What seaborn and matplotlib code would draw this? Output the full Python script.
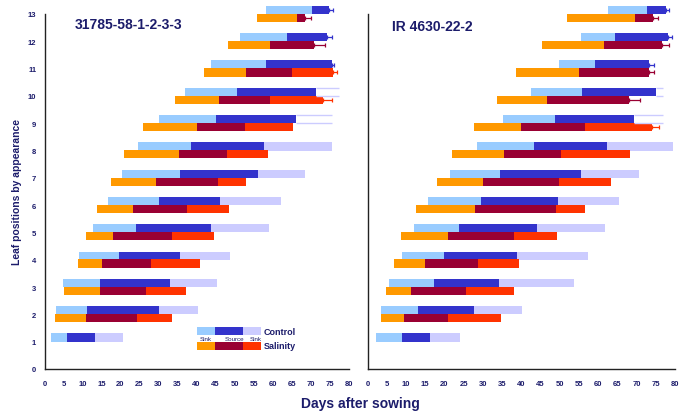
import numpy as np
import matplotlib.pyplot as plt
import seaborn as sns
from matplotlib.patches import Rectangle

sns.set_style('white')
plt.rcParams['font.family'] = ['Liberation Sans', 'DejaVu Sans']

NAVY = '#1c1c6b'
C_COLS = ['#99ccff', '#3333cc', '#ccccff']
S_COLS = ['#ff9900', '#990033', '#ff3300']

leaf = np.arange(1, 14)
nan = np.nan

# left panel: 31785-58-1-2-3-3  (start, sink->source, source->sink, end)
l_ctrl_start = [1.6, 2.9, 4.9, 9.1, 12.8, 16.8, 20.5, 24.5, 30.2, 37.0, 43.7, 51.4, 58.3]
l_ctrl_src = [6.0, 11.1, 14.7, 19.5, 24.2, 30.0, 35.7, 38.6, 45.0, 50.7, 58.2, 63.9, 70.3]
l_ctrl_sen = [13.4, 30.2, 32.9, 35.7, 43.8, 46.2, 56.2, 57.8, 66.2, 71.4, 75.7, 74.3, 74.9]
l_ctrl_end = [20.7, 40.3, 45.3, 48.7, 59.2, 62.2, 68.6, 75.7, 75.6, 77.5, nan, nan, nan]
l_ctrl_err = [nan, nan, nan, nan, nan, nan, nan, nan, nan, nan, 76.3, 75.6, 76.0]

l_sal_start = [nan, 2.8, 5.1, 8.8, 10.9, 13.9, 17.6, 21.0, 26.0, 34.4, 41.9, 48.3, 56.0]
l_sal_src = [nan, 10.9, 14.6, 15.2, 18.0, 23.4, 29.3, 35.5, 40.1, 45.9, 53.0, 59.4, 66.4]
l_sal_sen = [nan, 24.3, 26.7, 28.0, 33.6, 37.5, 45.7, 48.0, 52.7, 59.3, 65.0, 70.9, 68.5]
l_sal_end = [nan, 33.5, 37.2, 40.9, 44.6, 48.6, 53.0, 58.7, 65.5, 73.2, 75.9, nan, nan]
l_sal_err = [nan, nan, nan, nan, nan, nan, nan, nan, nan, 75.6, 77.1, 73.8, 70.0]

# right panel: IR 4630-22-2
r_ctrl_start = [2.3, 3.6, 5.6, 8.9, 12.2, 15.6, 21.5, 28.6, 35.2, 42.6, 49.8, 55.5, 62.5]
r_ctrl_src = [8.9, 13.2, 17.2, 19.9, 23.8, 29.5, 34.5, 43.3, 48.8, 55.8, 59.2, 64.4, 72.8]
r_ctrl_sen = [16.2, 27.8, 34.1, 38.8, 44.2, 49.5, 55.5, 62.2, 69.4, 75.0, 73.2, 78.1, 77.7]
r_ctrl_end = [24.1, 40.1, 53.7, 57.4, 61.7, 65.4, 70.7, 79.4, 76.8, 76.8, nan, nan, nan]
r_ctrl_err = [nan, nan, nan, nan, nan, nan, nan, nan, nan, nan, 74.5, 79.1, 78.4]

r_sal_start = [nan, 3.4, 4.8, 6.8, 8.8, 12.7, 18.0, 22.0, 27.7, 33.7, 38.7, 45.3, 52.0]
r_sal_src = [nan, 9.4, 11.4, 15.0, 21.0, 28.0, 30.0, 35.4, 40.0, 46.6, 55.0, 61.6, 69.6]
r_sal_sen = [nan, 21.0, 25.7, 28.8, 38.1, 49.1, 49.8, 50.4, 56.6, 68.0, 73.3, 76.6, 74.2]
r_sal_end = [nan, 34.6, 38.2, 39.3, 49.2, 56.6, 63.3, 68.3, 73.9, nan, nan, nan, nan]
r_sal_err = [nan, nan, nan, nan, nan, nan, nan, nan, 75.8, 70.9, 74.4, 78.5, 75.5]

# control rows where the late sink phase is only outlined
faint_rows = [9, 10]

H = 0.30


def draw_group(ax, start, src, sen, end, err, cols, off, is_ctrl):
    start, src, sen, end, err = map(np.array, (start, src, sen, end, err))
    y = leaf + off
    ok = ~np.isnan(start)
    ax.barh(y[ok], src[ok] - start[ok], left=start[ok], height=H, color=cols[0],
            lw=0, clip_on=False)
    ax.barh(y[ok], sen[ok] - src[ok], left=src[ok], height=H, color=cols[1],
            lw=0, clip_on=False)
    is_faint = np.isin(leaf, faint_rows) if is_ctrl else np.zeros(len(leaf), bool)
    solid = ~np.isnan(end) & ~is_faint
    ax.barh(y[solid], end[solid] - sen[solid], left=sen[solid], height=H,
            color=cols[2], lw=0, clip_on=False)
    faint = ~np.isnan(end) & is_faint
    for yy, a, b in zip(y[faint], sen[faint], end[faint]):
        ax.hlines([yy - H / 2, yy + H / 2], a, b, color=cols[2], lw=1.0, clip_on=False)
    for yy, e, a, b in zip(y, err, sen, end):
        if np.isnan(e):
            continue
        last = a if np.isnan(b) else b
        ecol = cols[1] if np.isnan(b) else cols[2]
        ax.errorbar([last], [yy], xerr=[[0], [e - last]], fmt='none', ecolor=ecol,
                    elinewidth=0.9, capsize=1.5, capthick=0.9, clip_on=False)


fig = plt.figure(figsize=(6.87, 4.14), dpi=100)
ax1 = fig.add_axes([0.0648, 0.1063, 0.4425, 0.8575])
ax2 = fig.add_axes([0.535, 0.1063, 0.4476, 0.8575])

draw_group(ax1, l_ctrl_start, l_ctrl_src, l_ctrl_sen, l_ctrl_end, l_ctrl_err, C_COLS, 0.15, True)
draw_group(ax1, l_sal_start, l_sal_src, l_sal_sen, l_sal_end, l_sal_err, S_COLS, -0.14, False)
draw_group(ax2, r_ctrl_start, r_ctrl_src, r_ctrl_sen, r_ctrl_end, r_ctrl_err, C_COLS, 0.15, True)
draw_group(ax2, r_sal_start, r_sal_src, r_sal_sen, r_sal_end, r_sal_err, S_COLS, -0.14, False)

for ax, title, tx, ty in [(ax1, '31785-58-1-2-3-3', 0.10, 0.972),
                          (ax2, 'IR 4630-22-2', 0.079, 0.965)]:
    ax.set_xlim(0, 80)
    ax.set_ylim(0, 13)
    ax.set_xticks(np.arange(0, 81, 5))
    ax.set_yticks(np.arange(0, 14, 1))
    sns.despine(ax=ax)
    for s in ('left', 'bottom'):
        ax.spines[s].set_color('#222222')
        ax.spines[s].set_linewidth(1.0)
    ax.tick_params(axis='both', direction='out', length=3, width=0.8, color='#222222',
                   labelsize=5.5, labelcolor=NAVY, pad=3)
    ax.tick_params(axis='x', pad=5)
    for lab in ax.get_xticklabels() + ax.get_yticklabels():
        lab.set_fontweight('bold')
    ax.text(tx, ty, title, transform=ax.transAxes,
            fontsize=10, fontweight='bold', color=NAVY, va='center', ha='left')

ax2.set_yticklabels([])
ax1.set_ylabel('Leaf positions by appearance', fontsize=7.5, fontweight='bold',
               color=NAVY, labelpad=4)
fig.text(0.525, 0.023, 'Days after sowing', fontsize=10, fontweight='bold',
         color=NAVY, ha='center', va='center')

# legend drawn inside the left panel
tr = ax1.transAxes
lx = [0.503, 0.561, 0.654, 0.713]
for i in range(3):
    ax1.add_patch(Rectangle((lx[i], 0.096), lx[i + 1] - lx[i], 0.022, color=C_COLS[i],
                            lw=0, transform=tr, clip_on=False))
    ax1.add_patch(Rectangle((lx[i], 0.054), lx[i + 1] - lx[i], 0.022, color=S_COLS[i],
                            lw=0, transform=tr, clip_on=False))
for x, t in [(0.511, 'Sink'), (0.593, 'Source'), (0.675, 'Sink')]:
    ax1.text(x, 0.086, t, transform=tr, fontsize=4.5, color=NAVY, va='center', ha='left')
ax1.text(0.722, 0.107, 'Control', transform=tr, fontsize=6.5, fontweight='bold',
         color=NAVY, va='center')
ax1.text(0.72, 0.066, 'Salinity', transform=tr, fontsize=6.5, fontweight='bold',
         color=NAVY, va='center')

fig.savefig('out.png', dpi=100)
